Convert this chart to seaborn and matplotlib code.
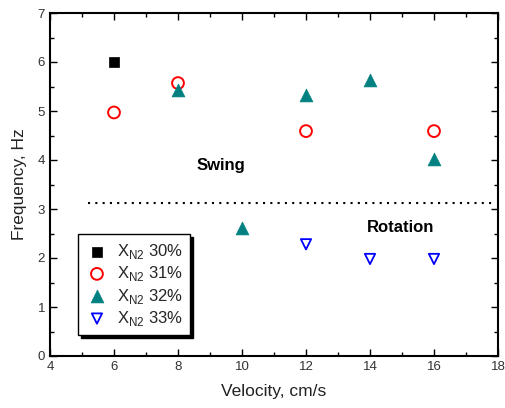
import matplotlib
matplotlib.use("Agg")
import matplotlib.pyplot as plt
import seaborn as sns
import pandas as pd
from matplotlib.ticker import MultipleLocator

sns.set_theme(style="white")
plt.rcParams['font.family'] = ['Liberation Sans', 'DejaVu Sans']
plt.rcParams['mathtext.fontset'] = 'custom'
plt.rcParams['mathtext.rm'] = 'Liberation Sans'

# Data
x30 = [6]
y30 = [6.0]
x31 = [6, 8, 12, 16]
y31 = [4.97, 5.57, 4.59, 4.59]
x32 = [8, 10, 12, 14, 16]
y32 = [5.43, 2.62, 5.32, 5.63, 4.03]
x33 = [12, 14, 16]
y33 = [2.28, 1.98, 1.98]
labels = [r'X$_{\mathrm{N2}}$ 30%', r'X$_{\mathrm{N2}}$ 31%',
          r'X$_{\mathrm{N2}}$ 32%', r'X$_{\mathrm{N2}}$ 33%']
boundary_x = [5.2, 17.8]
boundary_y = [3.12, 3.12]

fig = plt.figure(figsize=(5.05, 4.08), dpi=100)
ax = fig.add_axes([50/505, 52/408, 448/505, 343/408])

sns.scatterplot(x=x30, y=y30, ax=ax, marker='s', s=55, color='black',
                edgecolor='black', linewidth=0.5, label=labels[0], zorder=3)
sns.scatterplot(x=x31, y=y31, ax=ax, marker='o', s=72, facecolor='none',
                edgecolor='red', linewidth=1.4, label=labels[1], zorder=3)
sns.scatterplot(x=x32, y=y32, ax=ax, marker='^', s=85, color='#008080',
                edgecolor='#008080', linewidth=0.5, label=labels[2], zorder=3)
sns.scatterplot(x=x33, y=y33, ax=ax, marker='v', s=55, facecolor='none',
                edgecolor='blue', linewidth=1.3, label=labels[3], zorder=3)

sns.lineplot(x=boundary_x, y=boundary_y, ax=ax, color='black',
             linestyle=(0, (1, 2.5)), linewidth=1.5, zorder=2)

ax.text(9.35, 3.88, 'Swing', fontsize=12, fontweight='bold', ha='center', va='center', color='black')
ax.text(14.95, 2.62, 'Rotation', fontsize=12, fontweight='bold', ha='center', va='center', color='black')

ax.set_xlim(4, 18)
ax.set_ylim(0, 7)
ax.xaxis.set_major_locator(MultipleLocator(2))
ax.xaxis.set_minor_locator(MultipleLocator(1))
ax.yaxis.set_major_locator(MultipleLocator(1))
ax.yaxis.set_minor_locator(MultipleLocator(0.5))
ax.tick_params(which='both', direction='in', top=True, right=True,
               bottom=True, left=True, color='black', labelsize=9.5,
               labelcolor='#333333')
ax.tick_params(which='major', length=5, width=1)
ax.tick_params(which='minor', length=3, width=1)
for sp in ax.spines.values():
    sp.set_color('black')
    sp.set_linewidth(1.5)

ax.set_xlabel('Velocity, cm/s', fontsize=12.5, color='#222222', labelpad=8)
ax.set_ylabel('Frequency, Hz', fontsize=12.5, color='#222222', labelpad=8)

leg = ax.legend(loc='lower left', bbox_to_anchor=(0.062, 0.06), frameon=True,
                fancybox=False, shadow={'color': 'black', 'alpha': 1},
                edgecolor='black', fontsize=12, handletextpad=0.5,
                borderpad=0.45, labelspacing=0.2, handlelength=1.4,
                borderaxespad=0)
leg.get_frame().set_linewidth(1.0)

fig.savefig('out.png', dpi=100)
